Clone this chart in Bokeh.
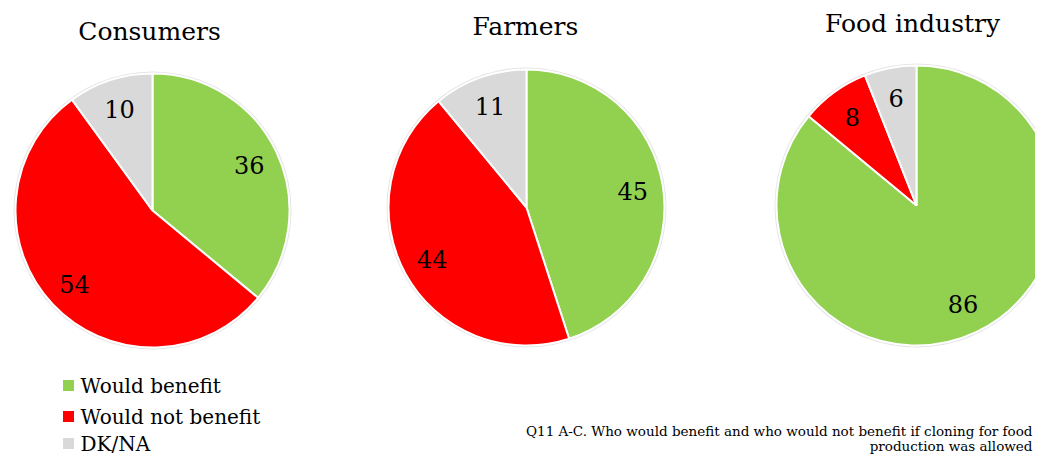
import math
from bokeh.plotting import figure
from bokeh.models import Range1d, ColumnDataSource
from bokeh.core.properties import value
from bokeh.embed import file_html
from bokeh.resources import INLINE

# ---- data ----
groups = ["Consumers", "Farmers", "Food industry"]
categories = ["Would benefit", "Would not benefit", "DK/NA"]
would_benefit = [36, 45, 86]
would_not_benefit = [54, 44, 8]
dk_na = [10, 11, 6]
colors = ["#92D050", "#FF0000", "#D9D9D9"]
footnote = ["Q11 A-C. Who would benefit and who would not benefit if cloning for food",
            "production was allowed"]

# ---- layout (picture pixel coordinates) ----
centers_x = [152, 526, 916]
centers_y = [210, 207, 205]
radii = [137, 138, 140]
title_pos = [(149, 31), (525, 26), (912, 23)]
label_frac = 0.78
FONT = "DejaVu Serif"

W, H = 1035, 454
p = figure(width=W, height=H, output_backend="svg", toolbar_location=None,
           x_range=Range1d(0, W), y_range=Range1d(0, H),
           x_axis_type=None, y_axis_type=None, min_border=0)
p.grid.visible = False
p.outline_line_color = None
p.background_fill_color = "white"


def py(y):
    # picture y (from top) -> data y
    return H - y


series = [would_benefit, would_not_benefit, dk_na]
for g in range(len(groups)):
    cx, cy, r = centers_x[g], py(centers_y[g]), radii[g]
    vals = [s[g] for s in series]
    total = float(sum(vals))
    # soft outer edge
    p.circle(x=[cx], y=[cy], radius=r + 2, fill_color="#DADADA",
             line_color=None, fill_alpha=0.7)
    starts, ends, lx, ly, txt = [], [], [], [], []
    cum = 0.0
    for v in vals:
        a0 = math.pi / 2 - 2 * math.pi * cum / total
        a1 = math.pi / 2 - 2 * math.pi * (cum + v) / total
        starts.append(a0)
        ends.append(a1)
        mid = (a0 + a1) / 2
        lx.append(cx + label_frac * r * math.cos(mid))
        ly.append(cy + label_frac * r * math.sin(mid))
        txt.append(str(v))
        cum += v
    src = ColumnDataSource(dict(x=[cx] * 3, y=[cy] * 3, start=starts, end=ends,
                                color=colors, cat=categories))
    p.wedge(x="x", y="y", radius=r, start_angle="start", end_angle="end",
            direction="clock", fill_color="color", line_color="white",
            line_width=2, source=src)
    p.text(x=lx, y=ly, text=txt, text_font=value(FONT), text_font_size="24px",
           text_align="center", text_baseline="middle", text_color="black")
    tx, ty = title_pos[g]
    p.text(x=[tx], y=[py(ty)], text=[groups[g]], text_font=value(FONT),
           text_font_size="25px", text_align="center", text_baseline="middle",
           text_color="black")

# ---- legend ----
leg_y = [385, 416, 443]
p.scatter(x=[68] * 3, y=[py(v) for v in leg_y], marker="square", size=11,
          fill_color=colors, line_color=None)
p.text(x=[80] * 3, y=[py(v) for v in leg_y], text=categories,
       text_font=value(FONT), text_font_size="20px", text_align="left",
       text_baseline="middle", text_color="black")

# ---- footnote ----
p.text(x=[1032, 1032], y=[py(430), py(445)], text=footnote,
       text_font=value(FONT), text_font_size="13.5px", text_align="right",
       text_baseline="middle", text_color="black")

open("out.html", "w").write(file_html(p, INLINE))
